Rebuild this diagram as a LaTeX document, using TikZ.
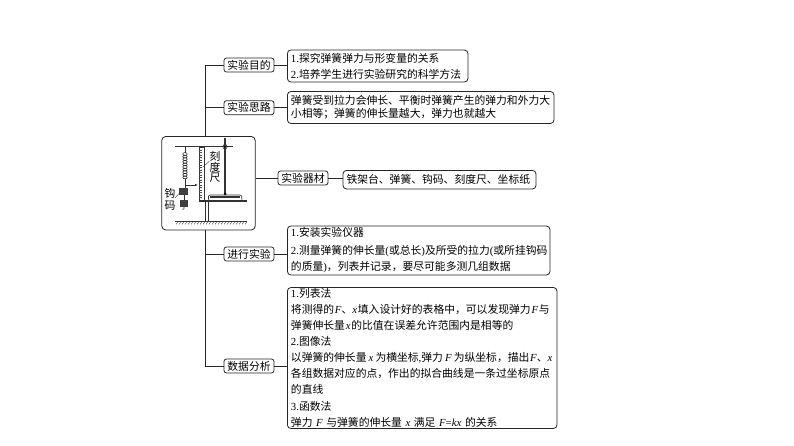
\documentclass[tikz,border=0pt]{standalone}
\usepackage{fontspec}
\usetikzlibrary{arrows.meta}
\setmainfont{Noto Sans CJK SC}
\newfontfamily\latf{Liberation Serif}
\newcommand{\la}[1]{{\latf #1}}
\newcommand{\va}[1]{{\latf\itshape #1}}
\newcommand{\sps}{\hspace{2.1pt}}
\newcommand{\wsp}{\hspace{3.6pt}}
\newcommand{\tsp}{\hspace{0.8pt}}
\tikzset{
  ln/.style={draw=black!85,line width=0.8pt},
  tagbox/.style={ln,rounded corners=2.5pt,inner xsep=0pt,inner ysep=-4pt,minimum width=50pt,minimum height=14pt,
     font=\fontsize{10.8}{13}\selectfont},
  txtbox/.style={ln,rounded corners=3.5pt,inner xsep=0pt,inner ysep=-5pt,align=left,
     font=\fontsize{10.8}{16}\selectfont},
  frame/.style={ln,rounded corners=4pt,inner sep=0pt,minimum width=93.5pt,minimum height=93.5pt},
  app/.style={draw=black!80,line width=0.6pt},
  lab/.style={inner sep=0pt,font=\fontsize{10.8}{13}\selectfont}
}
\begin{document}
\begin{tikzpicture}[x=1pt,y=-1pt]
\useasboundingbox[fill=white] (0,0) rectangle (794,446);
% nodes
\node[frame] (img) at (208.5,183.2) {};
\node[tagbox] (t1) at (249,65) {实验目的};
\node[tagbox] (t2) at (249,107.7) {实验思路};
\node[tagbox] (t3) at (303,178) {实验器材};
\node[tagbox] (t4) at (249,254) {进行实验};
\node[tagbox] (t5) at (249,366) {数据分析};
\node[txtbox,minimum width=180.5pt,minimum height=32pt,text width=173.5pt] (b1) at (377.7,66)
  {\la{1.}探究弹簧弹力与形变量的关系\\\la{2.}培养学生进行实验研究的科学方法};
\node[txtbox,minimum width=266.5pt,minimum height=32pt,text width=259.5pt,font=\fontsize{10.8}{13}\selectfont] (b2) at (420.7,107.5)
  {弹簧受到拉力会伸长、平衡时弹簧产生的弹力和外力大\\小相等；弹簧的伸长量越大，弹力也就越大};
\node[txtbox,minimum width=193pt,minimum height=18.5pt,text width=186pt] (b3) at (439.5,179.7)
  {铁架台、弹簧、钩码、刻度尺、坐标纸};
\node[txtbox,minimum width=262.5pt,minimum height=49pt,text width=255.5pt] (b4) at (418.7,250.5)
  {\la{1.}安装实验仪器\\[2pt]\la{2.}测量弹簧的伸长量\la{(}或总长\la{)}及所受的拉力\la{(}或所挂钩码\\的质量\la{)}，列表并记录，要尽可能多测几组数据};
\node[txtbox,minimum width=269.5pt,minimum height=141pt,text width=262.5pt] (b5) at (422.2,358)
  {\la{1.}列表法\\
   将测得的\tsp\va{F}、\va{x}\tsp 填入设计好的表格中，可以发现弹力\tsp\va{F}\tsp 与\\
   弹簧伸长量\tsp\va{x}\tsp 的比值在误差允许范围内是相等的\\
   \la{2.}图像法\\
   以弹簧的伸长量\sps\va{x}\sps 为横坐标\la{,}弹力\sps\va{F}\sps 为纵坐标，描出\tsp\va{F}、\va{x}\\
   各组数据对应的点，作出的拟合曲线是一条过坐标原点\\
   的直线\\[1.5pt]
   \la{3.}函数法\\
   弹力\wsp\va{F}\wsp 与弹簧的伸长量\wsp\va{x}\wsp 满足\wsp\va{F}\la{=}\va{kx}\wsp 的关系};
% connectors
\coordinate (trunkT) at (205,136.5);
\coordinate (trunkB) at (205,230);
\draw[ln] (trunkT) |- (t1.west);
\draw[ln] (t2.west) -- (t2.west -| trunkT);
\draw[ln] (trunkB) |- (t5.west);
\draw[ln] (t4.west) -- (t4.west -| trunkB);
\draw[ln] (img.east |- t3.west) -- (t3.west);
\draw[ln] (t1.east) -- (t1.east -| b1.west);
\draw[ln] (t2.east) -- (t2.east -| b2.west);
\draw[ln] (t3.east) -- (t3.east -| b3.west);
\draw[ln] (t4.east) -- (t4.east -| b4.west);
\draw[ln] (t5.east) -- (t5.east -| b5.west);
% apparatus
\draw[app,line width=1pt] (175,146.7) -- (233.3,146.7);
\draw[app,line width=1.1pt] (225,138.3) -- (225,194);
\draw[app] (225,146.7) circle (2.2pt);
\fill[black] (225,146.7) circle (0.9pt);
\fill[black] (225,194) circle (1.5pt);
% ruler
\draw[app] (199.3,147.5) rectangle (204,200);
\foreach \yy in {150,152.5,...,198} \draw[black!70,line width=0.35pt] (199.3,\yy) -- (201.5,\yy);
% spring
\draw[app] (185,147) -- (185,153);
\foreach \yy in {154,156.6,...,178} \draw[black!85,line width=0.6pt] (185,\yy) ellipse (2.2pt and 1.4pt);
\draw[app] (185,179) -- (185,188.3);
\draw[app,-{Latex[length=3pt,width=2.5pt]}] (185,185) -- (198,185);
% weights
\fill[black!75] (179.3,188.3) rectangle (188.3,195);
\fill[black!75] (180,200) rectangle (188.3,206.7);
\draw[app] (184,195) -- (184,200);
\draw[app] (184,206.7) -- (184,209) -- (182.5,209.5);
\draw[app,line width=0.4pt] (175,198) -- (179.5,193);
% table
\draw[app] (199.3,200) rectangle (246.7,201.7);
\draw[app] (205,201.7) -- (205,221.7);
\draw[app] (208.3,201.7) -- (208.3,221.7);
\draw[app] (208.5,199.7) -- (208.5,196) -- (210,195) -- (240,195) -- (241.7,196) -- (241.7,199.7);
\fill[black!80] (210,196.3) rectangle (240,198);
% ground
\draw[app] (175,221.7) -- (246.7,221.7);
\foreach \xx in {176,179,...,246} \draw[black!75,line width=0.4pt] (\xx,224.5) -- (\xx+2,221.7);
% labels
\node[lab] (lk) at (215,156) {刻};
\node[lab] (ld) at (215,167) {度};
\node[lab] (lc) at (215,177.5) {尺};
\node[lab] (lg) at (170,193) {钩};
\node[lab] (lm) at (170,206) {码};
\draw[app,line width=0.4pt] (lk.south west) -- (203.3,166.7);
\end{tikzpicture}
\end{document}
